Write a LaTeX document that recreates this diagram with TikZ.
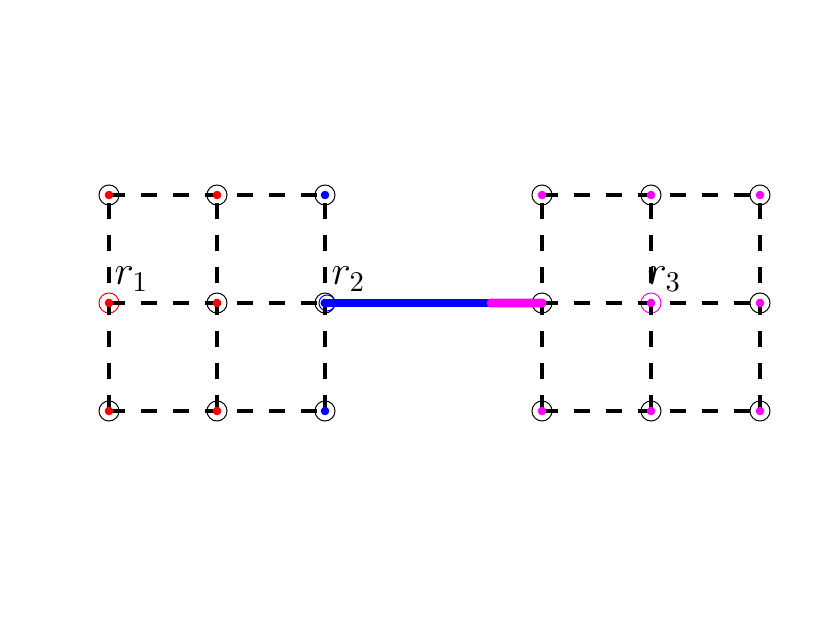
\documentclass[tikz,border=0pt]{standalone}
\usepackage{tikz}
\usetikzlibrary{positioning,calc}
\definecolor{mag}{RGB}{255,0,255}
\definecolor{pureblue}{RGB}{0,0,255}
\definecolor{purered}{RGB}{255,0,0}

\begin{document}
\begin{tikzpicture}[x=0.35pt, y=-0.35pt,
  ring/.style={circle, draw, line width=0.35pt, minimum size=7pt, inner sep=0pt},
  dot/.style={circle, fill, inner sep=0pt, minimum size=3pt},
  grid/.style={line width=1.4pt, dash pattern=on 5.6pt off 5.6pt},
  link/.style={line width=3.1pt, line cap=round},
  lbl/.style={anchor=base west, inner sep=0pt, font=\fontsize{14}{16}\selectfont}]
\useasboundingbox (0,0) rectangle (840,630);
% grid points: columns a-f, rows 1-3
\foreach \c/\x in {a/109,b/217,c/325,d/542,e/651,f/760}
  \foreach \r/\y in {1/195,2/303,3/411}
    \coordinate (\c\r) at (\x,\y);
% rings round the points
\foreach \p in {a1,b1,c1,d1,e1,f1,b2,c2,d2,f2,a3,b3,c3,d3,e3,f3}
  \node[ring] (ring-\p) at (\p) {};
\node[ring, draw=purered] (ring-a2) at (a2) {};
\node[ring, draw=mag] (ring-e2) at (e2) {};
\node[ring, draw=pureblue, minimum size=5.6pt] (ring-c2b) at ($(c2)+(2,0)$) {};
% dashed grids
\foreach \s/\t in {a1/c1,a2/c2,a3/c3,d1/f1,d2/f2,d3/f3,a3/a1,b3/b1,c3/c1,d3/d1,e3/e1,f3/f1}
  \draw[grid] (\s) -- (\t);
% link r2 -- right grid
\coordinate (split) at ($(c2)!0.765!(d2)$);
\draw[link, pureblue] (c2) -- (d2);
\draw[link, mag] (split) -- (d2);
% dots
\foreach \p in {a1,a2,a3,b1,b2,b3}
  \node[dot, purered] (dot-\p) at (\p) {};
\foreach \p in {c1,c2,c3}
  \node[dot, pureblue] (dot-\p) at (\p) {};
\foreach \p in {d1,d2,d3,e1,e2,e3,f1,f2,f3}
  \node[dot, mag] (dot-\p) at (\p) {};
% labels
\node[lbl] (lab-r1) at ($(a2)+(5,-18)$) {$r_1$};
\node[lbl] (lab-r2) at ($(c2)+(6,-18)$) {$r_2$};
\node[lbl] (lab-r3) at ($(e2)+(-4,-18)$) {$r_3$};
\end{tikzpicture}
\end{document}
